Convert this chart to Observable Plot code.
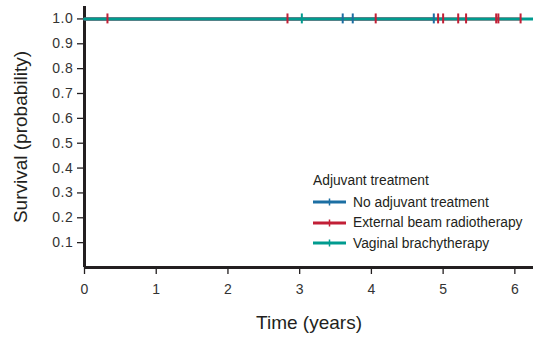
<!DOCTYPE html>
<html>
<head>
<meta charset="utf-8">
<script src="https://cdn.jsdelivr.net/npm/d3@7"></script>
<script src="https://cdn.jsdelivr.net/npm/@observablehq/plot@0.6"></script>
<style>
  html, body { margin: 0; padding: 0; background: #fff; }
  #wrap { position: relative; width: 533px; height: 341px; font-family: "Liberation Sans", Arial, sans-serif; }
  #legend { position: absolute; left: 313px; top: 173px; font-size: 13.8px; color: #231f20; }
  #legend .title { margin-bottom: 4px; }
  #legend .row { display: flex; align-items: center; height: 20.5px; }
  #legend svg { margin-right: 7px; }
  g[aria-label="y-axis tick label"] text { letter-spacing: 0.6px; }
</style>
</head>
<body>
<div id="wrap"></div>
<script>
// Groups and colors
const groups = ["No adjuvant treatment", "External beam radiotherapy", "Vaginal brachytherapy"];
const groupColors = ["#1c6fa3", "#c21f36", "#009b8f"];
const legendTitle = "Adjuvant treatment";

// Kaplan–Meier curves (survival stays at 1.0 throughout); last follow-up time per group
const curveTimes = {
  "No adjuvant treatment": [0, 4.87],
  "External beam radiotherapy": [0, 6.08],
  "Vaginal brachytherapy": [0, 6.26]
};
const curveSurvival = [1.0, 1.0];

// Censor marks (years)
const censorNoAdj = [3.60, 3.74, 4.87];
const censorEBRT = [0.32, 2.83, 4.06, 4.93, 5.00, 5.21, 5.32, 5.74, 5.77, 6.08];
const censorVBT = [3.03];

const xTicks = [0, 1, 2, 3, 4, 5, 6];
const yTicks = [0.1, 0.2, 0.3, 0.4, 0.5, 0.6, 0.7, 0.8, 0.9, 1.0];

const curves = [];
for (const g of groups) {
  curveTimes[g].forEach((t, i) => curves.push({group: g, time: t, surv: curveSurvival[i]}));
}
const censors = [
  ...censorNoAdj.map(t => ({group: groups[0], time: t, surv: 1.0})),
  ...censorEBRT.map(t => ({group: groups[1], time: t, surv: 1.0})),
  ...censorVBT.map(t => ({group: groups[2], time: t, surv: 1.0}))
];

const chart = Plot.plot({
  width: 533,
  height: 341,
  marginLeft: 84,
  marginRight: 0,
  marginTop: 6,
  marginBottom: 74,
  style: {fontFamily: "Liberation Sans, Arial, sans-serif", background: "#fff", overflow: "visible"},
  x: {domain: [0, 6.26], ticks: xTicks, tickFormat: d3.format("d"), label: null},
  y: {domain: [0, 1.05], ticks: yTicks, tickFormat: d3.format(".1f"), label: null},
  color: {domain: groups, range: groupColors},
  marks: [
    Plot.axisY({ticks: yTicks, tickFormat: d3.format(".1f"), tickSize: 7, tickPadding: 4, fontSize: 14, color: "#333", stroke: "#231f20", strokeWidth: 1.3, label: null}),
    Plot.axisX({ticks: xTicks, tickFormat: d3.format("d"), tickSize: 7, tickPadding: 10, fontSize: 14, color: "#333", stroke: "#231f20", strokeWidth: 1.3, label: null}),
    Plot.ruleX([0], {y1: 0, y2: 1.05, stroke: "#231f20", strokeWidth: 3}),
    Plot.ruleY([0], {x1: 0, x2: 6.26, stroke: "#231f20", strokeWidth: 3}),
    Plot.line(curves, {x: "time", y: "surv", z: "group", stroke: "group", strokeWidth: 3, curve: "step-after"}),
    Plot.ruleX(censors, {x: "time", y1: 0.98, y2: 1.02, stroke: "group", strokeWidth: 2}),
    Plot.text(["Time (years)"], {frameAnchor: "bottom", dy: 61, text: d => d, fontSize: 19, fill: "#231f20"}),
    Plot.text(["Survival (probability)"], {frameAnchor: "left", dx: -64, rotate: -90, textAnchor: "middle", text: d => d, fontSize: 19, fill: "#231f20"})
  ]
});

const wrap = document.getElementById("wrap");
wrap.appendChild(chart);

// Legend
const legend = document.createElement("div");
legend.id = "legend";
const t = document.createElement("div");
t.className = "title";
t.textContent = legendTitle;
legend.appendChild(t);
groups.forEach((g, i) => {
  const row = document.createElement("div");
  row.className = "row";
  const c = groupColors[i];
  row.innerHTML = `<svg width="33" height="10"><line x1="0" x2="33" y1="5" y2="5" stroke="${c}" stroke-width="3"/><line x1="16.5" x2="16.5" y1="1.5" y2="8.5" stroke="${c}" stroke-width="1.5"/></svg><span>${g}</span>`;
  legend.appendChild(row);
});
wrap.appendChild(legend);
</script>
</body>
</html>
